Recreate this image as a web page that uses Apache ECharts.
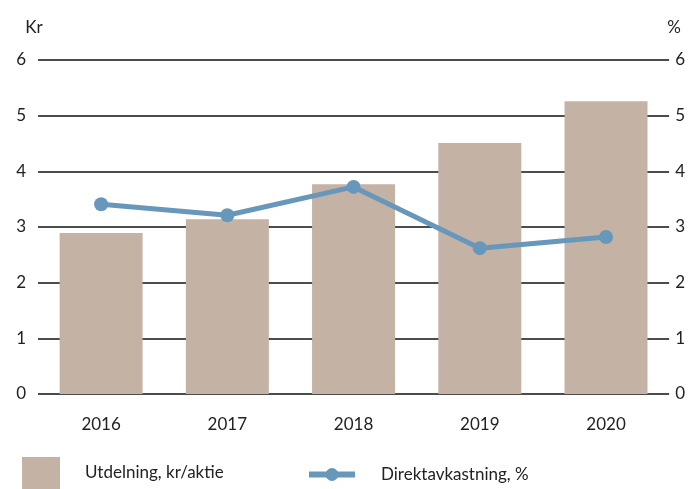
<!DOCTYPE html>
<html>
<head>
<meta charset="utf-8">
<script src="https://cdn.jsdelivr.net/npm/echarts@6/dist/echarts.min.js"></script>
<style>
  html, body { margin: 0; padding: 0; background: #fff; }
  #chart { width: 688px; height: 489px; }
</style>
</head>
<body>
<div id="chart"></div>
<script>
const years = ["2016", "2017", "2018", "2019", "2020"];
const utdelning = [2.89, 3.14, 3.77, 4.51, 5.26];
const direktavkastning = [3.41, 3.21, 3.72, 2.62, 2.82];
const axisTicks = [0, 1, 2, 3, 4, 5, 6];

const barColor = "#c4b2a5";
const lineColor = "#6797bb";
const font = "Lato, 'Noto Sans', sans-serif";

const chart = echarts.init(document.getElementById("chart"));

const option = {
  animation: false,
  textStyle: { fontFamily: font },
  grid: { left: 38, right: 18, top: 60, bottom: 95 },
  xAxis: {
    type: "category",
    data: years,
    axisLine: { show: false },
    axisTick: { show: false },
    axisLabel: { color: "#222", fontSize: 17, margin: 22, fontFamily: font }
  },
  yAxis: [
    {
      type: "value",
      min: axisTicks[0],
      max: axisTicks[axisTicks.length - 1],
      interval: 1,
      name: "Kr",
      nameLocation: "end",
      nameGap: 24,
      nameTextStyle: { color: "#222", fontSize: 17, align: "center", padding: [0, 0, 0, -8] },
      axisLine: { show: false },
      axisTick: { show: false },
      axisLabel: { color: "#222", fontSize: 17, margin: 12 },
      splitLine: { lineStyle: { color: "#111", width: 1.5 } }
    },
    {
      type: "value",
      min: axisTicks[0],
      max: axisTicks[axisTicks.length - 1],
      interval: 1,
      name: "%",
      nameLocation: "end",
      nameGap: 24,
      nameTextStyle: { color: "#222", fontSize: 17, align: "center", padding: [0, 0, 0, 10] },
      axisLine: { show: false },
      axisTick: { show: false },
      axisLabel: { color: "#222", fontSize: 17, margin: 6 },
      splitLine: { show: false }
    }
  ],
  legend: [
    {
      top: 457,
      left: 22,
      padding: 0,
      itemWidth: 38,
      itemHeight: 32,
      textStyle: { color: "#222", fontSize: 17, padding: [0, 0, 0, 20] },
      data: [{ name: "Utdelning, kr/aktie", icon: "rect" }]
    },
    {
      top: 466,
      left: 306,
      padding: 0,
      itemWidth: 46,
      itemHeight: 16,
      lineStyle: { width: 6 },
      textStyle: { color: "#222", fontSize: 17, padding: [0, 0, 0, 21] },
      data: [{ name: "Direktavkastning, %" }]
    }
  ],
  series: [
    {
      name: "Utdelning, kr/aktie",
      type: "bar",
      data: utdelning,
      barWidth: 83,
      itemStyle: { color: barColor }
    },
    {
      name: "Direktavkastning, %",
      type: "line",
      yAxisIndex: 1,
      data: direktavkastning,
      symbol: "circle",
      symbolSize: 14,
      lineStyle: { color: lineColor, width: 5 },
      itemStyle: { color: lineColor }
    }
  ]
};

chart.setOption(option);
</script>
</body>
</html>
